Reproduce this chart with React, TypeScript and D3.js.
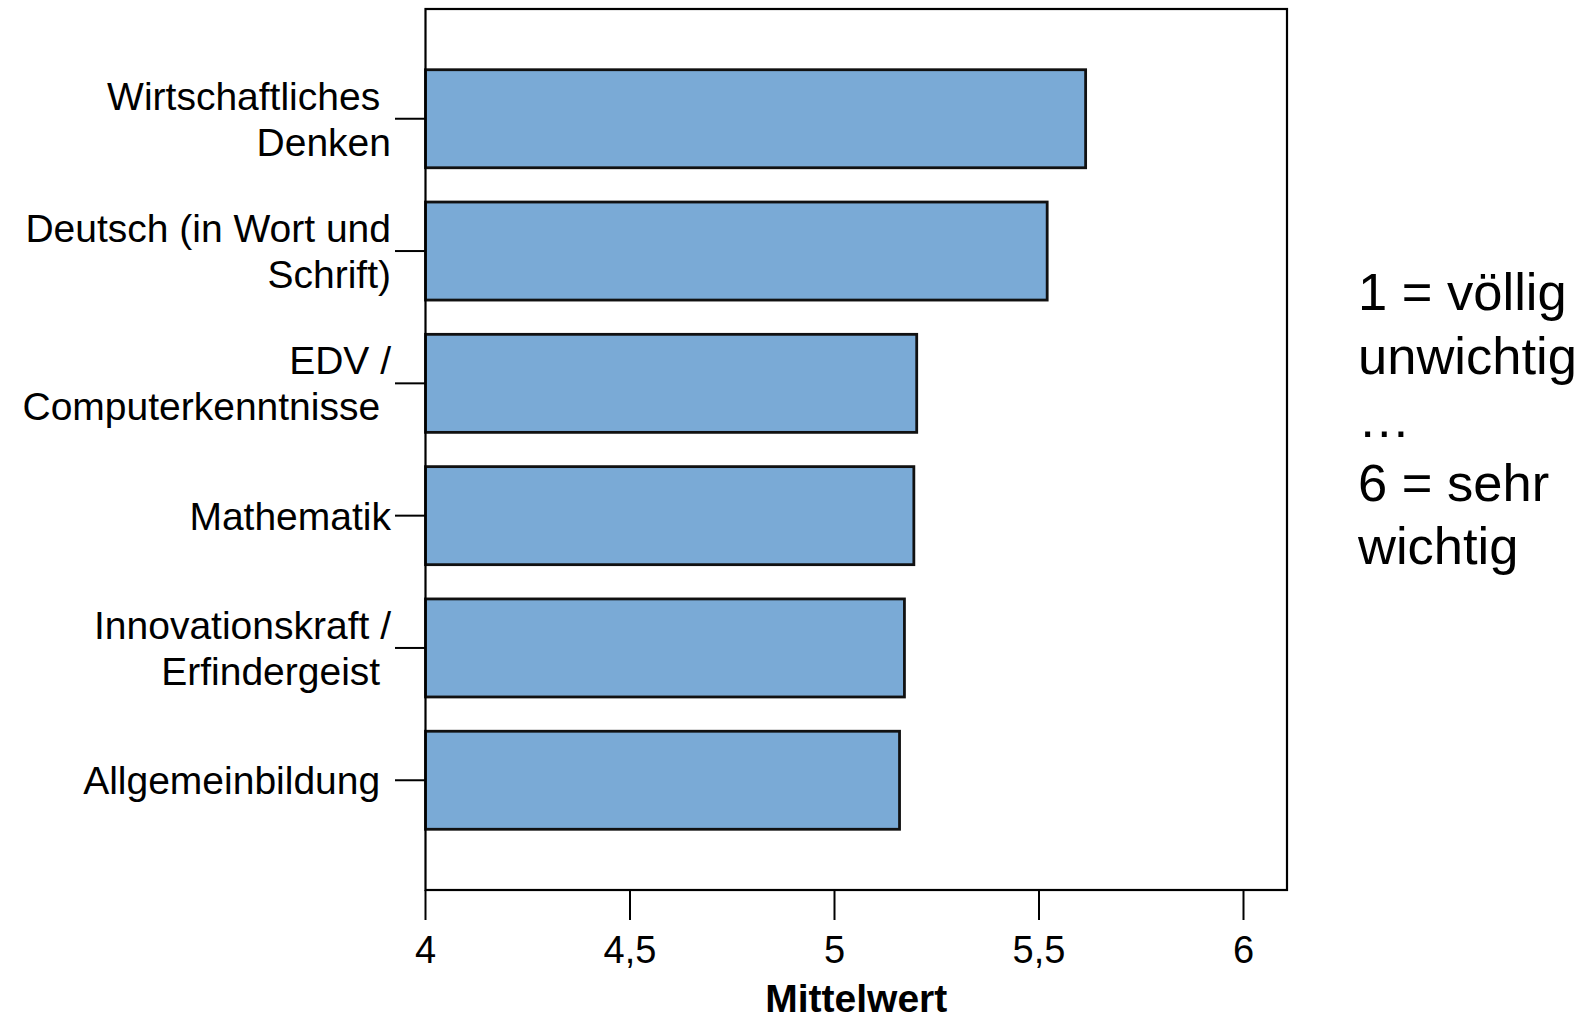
import React from "react";
import * as d3 from "d3";

const categories: string[][] = [
  ["Wirtschaftliches ", "Denken"],
  ["Deutsch (in Wort und", "Schrift)"],
  ["EDV /", "Computerkenntnisse "],
  ["Mathematik"],
  ["Innovationskraft /", "Erfindergeist "],
  ["Allgemeinbildung "],
];
const values: number[] = [5.614, 5.52, 5.201, 5.194, 5.171, 5.159];
const xTicks: number[] = [4, 4.5, 5, 5.5, 6];
const xTickLabels: string[] = ["4", "4,5", "5", "5,5", "6"];
const xAxisTitle = "Mittelwert";
const noteLines: string[] = ["1 = völlig", "unwichtig", "…", "6 = sehr", "wichtig"];

const W = 1585;
const H = 1017;
const FRAME = { left: 425.5, right: 1287, top: 9, bottom: 890 };
const FONT = "'Liberation Sans', Arial, Helvetica, sans-serif";

export default function App() {
  const keys = categories.map((c) => c.join(" "));
  const x = d3.scaleLinear().domain([4, 6]).range([425.5, 1243.5]);
  const y = d3
    .scaleBand<string>()
    .domain(keys)
    .range([FRAME.top, FRAME.bottom])
    .paddingInner(0.259)
    .paddingOuter(0.459);

  return (
    <svg
      width={W}
      height={H}
      style={{ position: "absolute", left: 0, top: 0, background: "#fff" }}
      fontFamily={FONT}
    >
      {values.map((v, i) => (
        <rect
          key={i}
          x={x(4)}
          y={y(keys[i])}
          width={x(v) - x(4)}
          height={y.bandwidth()}
          fill="#7AAAD6"
          stroke="#111"
          strokeWidth={2.8}
        />
      ))}
      <rect
        x={FRAME.left}
        y={FRAME.top}
        width={FRAME.right - FRAME.left}
        height={FRAME.bottom - FRAME.top}
        fill="none"
        stroke="#000"
        strokeWidth={2.2}
      />
      {xTicks.map((t, i) => (
        <g key={t}>
          <line x1={x(t)} x2={x(t)} y1={FRAME.bottom} y2={FRAME.bottom + 30} stroke="#000" strokeWidth={2} />
          <text x={x(t)} y={963} textAnchor="middle" fontSize={38} fill="#000">
            {xTickLabels[i]}
          </text>
        </g>
      ))}
      <text
        x={(FRAME.left + FRAME.right) / 2}
        y={1012}
        textAnchor="middle"
        fontSize={39}
        fontWeight="bold"
        fill="#000"
      >
        {xAxisTitle}
      </text>
      {categories.map((lines, i) => {
        const c = (y(keys[i]) as number) + y.bandwidth() / 2;
        return (
          <g key={i}>
            <line x1={395} x2={FRAME.left} y1={c} y2={c} stroke="#000" strokeWidth={2} />
            {lines.map((ln, j) => (
              <text
                key={j}
                x={391}
                y={c + 14 + (j - (lines.length - 1) / 2) * 46}
                textAnchor="end"
                fontSize={39}
                fill="#000"
                style={{ whiteSpace: "pre" }}
              >
                {ln}
              </text>
            ))}
          </g>
        );
      })}
      {noteLines.map((ln, i) => (
        <text key={i} x={1358} y={310 + i * 63.5} fontSize={52.5} fill="#000">
          {ln}
        </text>
      ))}
    </svg>
  );
}
